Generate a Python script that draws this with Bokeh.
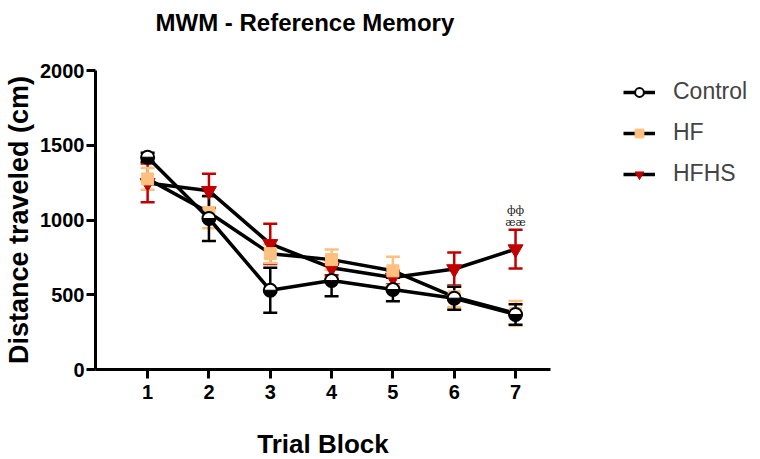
import numpy as np
from bokeh.plotting import figure
from bokeh.models import Range1d, Whisker, ColumnDataSource, Legend, LegendItem, FixedTicker, TeeHead, Title
from bokeh.embed import file_html
from bokeh.resources import INLINE
from bokeh.core.properties import value

blocks = [1, 2, 3, 4, 5, 6, 7]
control_mean = [1420, 1010, 530, 595, 535, 477, 368]
control_sem = [30, 150, 150, 105, 78, 77, 68]
hf_mean = [1275, 1050, 775, 735, 660, 486, 375]
hf_sem = [72, 105, 63, 68, 95, 69, 83]
hfhs_mean = [1248, 1195, 840, 680, 615, 672, 805]
hfhs_sem = [130, 115, 135, 50, 45, 110, 130]
y_ticks = [0, 500, 1000, 1500, 2000]
annot_x = [7, 7]
annot_y = [1063, 983]
annot_text = ["фф", "ææ"]

FONT = "Liberation Sans"
p = figure(frame_width=455, frame_height=299, output_backend="svg", toolbar_location=None,
           x_range=Range1d(0.15, 7.57), y_range=Range1d(0, 2000),
           min_border_left=95, min_border_right=202, min_border_top=70, min_border_bottom=82,
           title="MWM - Reference Memory")
p.outline_line_color = None
p.grid.visible = False
p.background_fill_color = "white"
p.border_fill_color = "white"

p.title.text_font = FONT
p.title.text_font_style = "bold"
p.title.text_font_size = "24px"
p.title.align = "left"
p.title.offset = 60
p.title.standoff = 8
p.title.text_color = "black"

# empty spacer between the frame and the title
p.add_layout(Title(text=" ", text_font_size="10px", standoff=18), "above")

for ax in (p.xaxis[0], p.yaxis[0]):
    ax.axis_line_width = 3
    ax.axis_line_color = "black"
    ax.major_tick_line_width = 3
    ax.major_tick_out = 9
    ax.major_tick_in = 0
    ax.minor_tick_line_color = None
    ax.major_label_text_font = FONT
    ax.major_label_text_font_style = "bold"
    ax.major_label_text_font_size = "20px"
    ax.major_label_text_color = "black"
    ax.axis_label_text_font = FONT
    ax.axis_label_text_font_style = "bold"
    ax.axis_label_text_color = "black"

p.xaxis.axis_label_text_font_size = "26px"
p.yaxis.axis_label_text_font_size = "27px"
p.xaxis.ticker = FixedTicker(ticks=blocks)
p.yaxis.ticker = FixedTicker(ticks=y_ticks)
p.xaxis.axis_label = "Trial Block"
p.yaxis.axis_label = "Distance traveled (cm)"
p.xaxis.major_label_standoff = 6
p.xaxis.axis_label_standoff = 27
p.yaxis.major_label_standoff = 2
p.yaxis.axis_label_standoff = 3

def src(mean, sem):
    m = np.array(mean, float); s = np.array(sem, float)
    return ColumnDataSource(dict(x=blocks, y=m, lo=m - s, hi=m + s))

s_c = src(control_mean, control_sem)
s_hf = src(hf_mean, hf_sem)
s_hfhs = src(hfhs_mean, hfhs_sem)

def whisk(s, color):
    w = Whisker(source=s, base="x", upper="hi", lower="lo", line_color=color, line_width=2.5,
                upper_head=TeeHead(size=14, line_color=color, line_width=2.5),
                lower_head=TeeHead(size=14, line_color=color, line_width=2.5))
    p.add_layout(w)

RED = "#C00000"
ORANGE = "#FDC07F"

whisk(s_hfhs, RED)
l3 = p.line("x", "y", source=s_hfhs, line_color="black", line_width=3.5)
m3 = p.scatter("x", "y", source=s_hfhs, marker="inverted_triangle", size=15,
               fill_color=RED, line_color=RED)
whisk(s_hf, ORANGE)
l2 = p.line("x", "y", source=s_hf, line_color="black", line_width=3.5)
m2 = p.scatter("x", "y", source=s_hf, marker="square", size=12,
               fill_color=ORANGE, line_color=ORANGE)
whisk(s_c, "black")
l1 = p.line("x", "y", source=s_c, line_color="black", line_width=3.5)
m1 = p.scatter("x", "y", source=s_c, marker="circle", size=13,
               fill_color="white", line_color="black", line_width=2)
w1 = p.wedge("x", "y", radius=6.5, radius_units="screen", start_angle=np.pi, end_angle=2 * np.pi,
             source=s_c, fill_color="black", line_color="black")

p.text(annot_x, annot_y, text=annot_text, text_font=value("DejaVu Serif"), text_font_size="11px",
       text_align="center", text_baseline="middle", text_color="#222222")

legend = Legend(items=[
    LegendItem(label="Control", renderers=[l1, m1]),
    LegendItem(label="HF", renderers=[l2, m2]),
    LegendItem(label="HFHS", renderers=[l3, m3]),
], location=(73, 182))
legend.border_line_color = None
legend.background_fill_alpha = 0
legend.label_text_font = FONT
legend.label_text_font_size = "23px"
legend.glyph_width = 32
legend.glyph_height = 22
legend.label_height = 22
legend.spacing = 14
legend.label_standoff = 18
legend.padding = 0
legend.margin = 0
p.add_layout(legend, "right")

open("out.html", "w").write(file_html(p, INLINE))
